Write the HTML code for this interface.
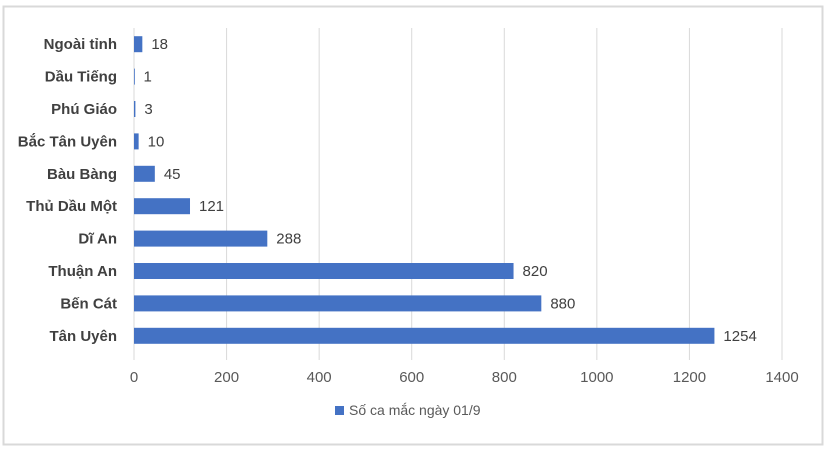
<!DOCTYPE html>
<html><head><meta charset="utf-8"><style>
body{margin:0;background:#fff;font-family:"Liberation Sans",Arial,sans-serif}
svg{display:block}
</style></head><body>
<svg id="chart" width="827" height="451" xmlns="http://www.w3.org/2000/svg">
<rect x="3.5" y="6.5" width="819" height="438" fill="#fff" stroke="#d9d9d9" stroke-width="2"/>
<g id="grid"></g><g id="bars"></g><g id="labels"></g>
<g>
<rect x="335" y="406" width="9" height="9" fill="#4472c4"/>
<text x="349" y="415" font-size="14" fill="#595959">Số ca mắc ngày 01/9</text>
</g>
</svg>
<script>
const categories=["Ngoài tỉnh","Dầu Tiếng","Phú Giáo","Bắc Tân Uyên","Bàu Bàng","Thủ Dầu Một","Dĩ An","Thuận An","Bến Cát","Tân Uyên"];
const values=[18,1,3,10,45,121,288,820,880,1254];
const ticks=[0,200,400,600,800,1000,1200,1400];
const NS="http://www.w3.org/2000/svg";
const x0=134,x1=782,xmax=1400;
const xs=v=>x0+(v/xmax)*(x1-x0);
const plotTop=28,plotBottom=352,step=(plotBottom-plotTop)/categories.length;
const ys=i=>plotTop+step*(i+0.5);
function mk(t,a,p){const e=document.createElementNS(NS,t);for(const k in a)e.setAttribute(k,a[k]);p.appendChild(e);return e;}
const grid=document.getElementById('grid'),bars=document.getElementById('bars'),labels=document.getElementById('labels');
ticks.forEach(t=>{
 const l=mk('line',{x1:xs(t),x2:xs(t),y1:plotTop,y2:plotBottom+8,stroke:'#d9d9d9','stroke-width':1},grid);
 
 
 const tx=mk('text',{x:xs(t),y:382,'font-size':15,fill:'#595959','text-anchor':'middle'},labels);
 tx.textContent=t;
 
 
});
categories.forEach((c,i)=>{
 const y=ys(i);
 const r=mk('rect',{x:x0,y:y-8,width:Math.max(xs(values[i])-x0,0.8),height:16,fill:'#4472c4'},bars);
 
 
 const cl=mk('text',{x:117,y:y+5,'font-size':15,'font-weight':'bold',fill:'#404040','text-anchor':'end'},labels);
 cl.textContent=c;
 
 
 const vl=mk('text',{x:xs(values[i])+9,y:y+5,'font-size':15,fill:'#404040'},labels);
 vl.textContent=values[i];
 
 
});
</script>
</body></html>
